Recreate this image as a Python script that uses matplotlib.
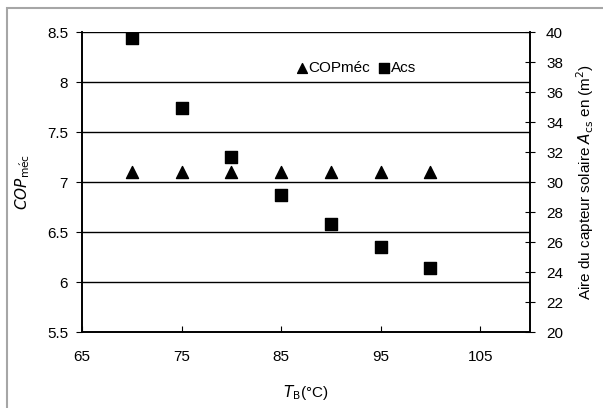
import matplotlib.pyplot as plt
from matplotlib.patches import Rectangle

plt.rcParams['font.family'] = ['Liberation Sans', 'DejaVu Sans']

# data
tb = [70, 75, 80, 85, 90, 95, 100]
cop_mec = [7.1, 7.1, 7.1, 7.1, 7.1, 7.1, 7.1]
acs = [39.6, 34.95, 31.7, 29.15, 27.2, 25.65, 24.3]

x_ticks = [65, 75, 85, 95, 105]
cop_ticks = [5.5, 6, 6.5, 7, 7.5, 8, 8.5]
acs_ticks = list(range(20, 41, 2))

fig = plt.figure(figsize=(6.03, 4.08), dpi=100)
fig.patches.append(Rectangle((0.012, -0.01), 1.0, 0.99, transform=fig.transFigure,
                             fill=False, edgecolor='#a6a6a6', linewidth=1.5))

ax = fig.add_axes([82/603, 1 - 332/408, (530-82)/603, 300/408])
ax2 = ax.twinx()

ax.scatter(tb, cop_mec, marker='^', s=75, color='black', zorder=3)
ax2.scatter(tb, acs, marker='s', s=85, color='black', zorder=3)

ax.set_xlim(65, 110)
ax.set_ylim(5.5, 8.5)
ax2.set_ylim(20, 40)
ax.set_xticks(x_ticks)
ax.set_yticks(cop_ticks)
ax.set_yticklabels(['5.5', '6', '6.5', '7', '7.5', '8', '8.5'])
ax2.set_yticks(acs_ticks)

for y in cop_ticks[1:]:
    ax.axhline(y, color='black', linewidth=1.0, zorder=1)

for a in (ax, ax2):
    a.spines['top'].set_visible(False)
    for s in a.spines.values():
        s.set_linewidth(1.2)
ax.tick_params(axis='y', direction='out', length=4, labelsize=11, pad=6)
ax.tick_params(axis='x', direction='in', length=4, labelsize=11, pad=13)
ax2.tick_params(axis='y', direction='inout', length=7, labelsize=11, pad=8)

ax.set_xlabel(r'$\it{T}$$_{\rm B}$(°C)', fontsize=11, labelpad=14)
ax.set_ylabel(r'$\it{COP}$$_{\rm m\acute{e}c}$', fontsize=11, labelpad=11)
ax2.set_ylabel(r'Aire du capteur solaire $\it{A}$$_{\rm cs}$ en (m$^2$)', fontsize=11, labelpad=8)

# legend
h1 = ax.scatter([], [], marker='^', s=50, color='black')
h2 = ax.scatter([], [], marker='s', s=50, color='black')
ax.legend([h1, h2], ['COPméc', 'Acs'], ncol=2, frameon=False, fontsize=11,
          loc='center', bbox_to_anchor=(0.614, 0.88), handlelength=0.5,
          handletextpad=0.15, columnspacing=0.7, borderpad=0)

fig.savefig('out.png', dpi=100)
